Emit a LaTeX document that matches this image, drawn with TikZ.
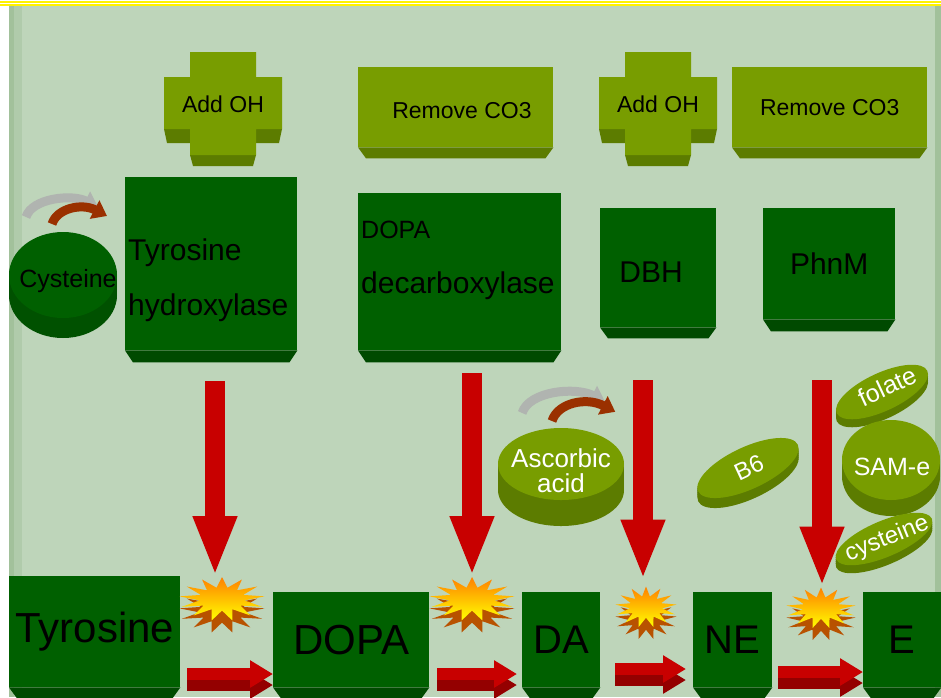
\documentclass[tikz,border=0pt]{standalone}
\usepackage{fontspec}
\setmainfont{Liberation Sans}
\usetikzlibrary{shapes.geometric, arrows.meta}

\definecolor{pagegreen}{HTML}{BED5BA}
\definecolor{edgegreen}{HTML}{A2C19B}
\definecolor{boxgreen}{HTML}{006000}
\definecolor{boxshade}{HTML}{004A00}
\definecolor{olive}{HTML}{789D00}
\definecolor{oliveshade}{HTML}{5C7C00}
\definecolor{arrowred}{HTML}{C80000}
\definecolor{arrowshade}{HTML}{940000}
\definecolor{swirlbrown}{HTML}{9A3000}
\definecolor{swirlgray}{HTML}{B0B4B0}
\definecolor{boomshade}{HTML}{B85200}
\definecolor{boomtop}{HTML}{FF8000}

\tikzstyle{enzyme} = [rectangle, fill=boxgreen, inner sep=0pt, anchor=north west]
\tikzstyle{action} = [rectangle, fill=olive, inner sep=0pt, anchor=north west]
\tikzstyle{chem} = [rectangle, fill=boxgreen, inner sep=0pt, anchor=north west, font=\fontsize{40}{48}\selectfont]
\tikzstyle{boom} = [star, star points=13, star point ratio=1.9, inner sep=0pt]
\tikzstyle{downarrow} = [arrowred, line width=20pt, -{Triangle[length=60pt, width=40pt]}]
\tikzstyle{sidearrow} = [line width=12pt, -{Triangle[length=23pt, width=26pt]}]
\tikzstyle{swirl} = [line width=9pt, -{Triangle[length=14pt, width=20pt]}]
\tikzstyle{big} = [inner sep=0pt, font=\fontsize{30}{55}\selectfont]
\tikzstyle{small} = [inner sep=0pt, font=\fontsize{23}{27}\selectfont]
\tikzstyle{pilltext} = [inner sep=0pt, text=white, font=\fontsize{25}{25}\selectfont]

% darker foot under a box
\newcommand\boxfoot[3][12]{\fill[#3] (#2.south west) -- (#2.south east) -- ([xshift=-8pt,yshift=-#1pt]#2.south east) -- ([xshift=8pt,yshift=-#1pt]#2.south west) -- cycle;}

% olive cross with its text
\newcommand\plusbox[3]{%
\begin{scope}[shift={#2}]
\fill[oliveshade] (-59,26) -- (-33,26) -- (-33,40) -- (-56,40) -- cycle;
\fill[oliveshade] (59,26) -- (33,26) -- (33,40) -- (56,40) -- cycle;
\fill[oliveshade] (-33,52) -- (33,52) -- (30,63) -- (-30,63) -- cycle;
\fill[olive] (-33,-51) -- (33,-51) -- (33,-26) -- (59,-26) -- (59,26) -- (33,26) -- (33,52) -- (-33,52) -- (-33,26) -- (-59,26) -- (-59,-26) -- (-33,-26) -- cycle;
\node (#1) [small] at (0,1) {#3};
\end{scope}}

% curved grey and brown arrows
\newcommand\swirlpair[2]{%
\begin{scope}[shift={#1}, scale=#2]
\draw[swirl, swirlgray] (-26,-7) .. controls (-20,-26) and (20,-30) .. (46,-17);
\draw[swirl, swirlbrown] (0,0) .. controls (5,-16) and (30,-21) .. (55,-8);
\end{scope}}

\begin{document}
\begin{tikzpicture}[x=1pt, y=-1pt]
\useasboundingbox (0,0) rectangle (941,697);

%%% page %%%%%%%%%%%%%%%%%%%%%%%
\fill[white] (0,0) rectangle (941,697);
\fill[pagegreen] (9,6) rectangle (941,697);
\fill[edgegreen] (9,6) rectangle (14,697);
\fill[edgegreen!50!pagegreen] (14,6) rectangle (22,697);
\fill[edgegreen] (935,6) rectangle (941,697);
\fill[yellow] (0,1) rectangle (941,6);
\fill[white] (0,3.2) rectangle (941,3.9);

%%% actions %%%%%%%%%%%%%%%%%%%%%%%
\plusbox{addoh1}{(223,103)}{Add OH}
\plusbox{addoh2}{(658,103)}{Add OH}
\node (rmco1) [action, minimum width=195pt, minimum height=80pt] at (358,67) {};
\boxfoot[11]{rmco1}{oliveshade}
\node (rmco1text) [small] at (462,111) {Remove CO3};
\node (rmco2) [action, minimum width=195pt, minimum height=80pt, small] at (732,67) {Remove CO3};
\boxfoot[11]{rmco2}{oliveshade}

%%% enzymes %%%%%%%%%%%%%%%%%%%%%%%
\node (th) [enzyme, minimum width=172pt, minimum height=173pt] at (125,177) {};
\boxfoot{th}{boxshade}
\node (thtext) [big, anchor=base west, align=left] at (128,315) {Tyrosine\\hydroxylase};
\node (ddc) [enzyme, minimum width=203pt, minimum height=157pt] at (358,193) {};
\boxfoot{ddc}{boxshade}
\node (ddctext) [big, anchor=base west, align=left] at (361,293) {{\fontsize{25}{55}\selectfont DOPA}\\decarboxylase};
\node (dbh) [enzyme, minimum width=116pt, minimum height=119pt] at (600,208) {};
\boxfoot[11]{dbh}{boxshade}
\node (dbhtext) [big] at (651,272) {DBH};
\node (pnmt) [enzyme, minimum width=132pt, minimum height=111pt, big] at (763,208) {PhnM};
\boxfoot{pnmt}{boxshade}

%%% cofactors %%%%%%%%%%%%%%%%%%%%%%%
\foreach \d in {20,18,...,2} \fill[boxshade!70!boxgreen] (63,275+\d) ellipse (54 and 43);
\fill[boxgreen] (63,275) ellipse (54 and 43);
\node (cys) [inner sep=0pt, font=\fontsize{25}{30}\selectfont] at (68,281) {Cysteine};
\swirlpair{(52,224)}{1}

\foreach \d in {26,24,...,2} \fill[oliveshade] (561,464+\d) ellipse (63 and 36);
\fill[olive] (561,464) ellipse (63 and 36);
\node (asc) [pilltext, align=center, font=\fontsize{26}{25}\selectfont] at (561,471) {Ascorbic\\acid};
\swirlpair{(552,421)}{1.15}

\foreach \d in {10,8,...,2} \fill[oliveshade, rotate around={25:(748,468+\d)}] (748,468+\d) ellipse (55 and 21);
\fill[olive, rotate around={25:(748,468)}] (748,468) ellipse (55 and 21);
\node (b6) [pilltext, rotate=25, font=\fontsize{24}{24}\selectfont] at (749,468) {B6};

\foreach \d in {8,6,...,2} \fill[oliveshade, rotate around={25:(882,392+\d)}] (882,392+\d) ellipse (50 and 19);
\fill[olive, rotate around={25:(882,392)}] (882,392) ellipse (50 and 19);
\node (fol) [pilltext, rotate=25] at (887,386) {folate};

\foreach \d in {16,14,...,2} \fill[oliveshade] (891,460+\d) ellipse (49 and 40);
\fill[olive] (891,460) ellipse (49 and 40);
\node (same) [pilltext] at (892,467) {SAM-e};

\foreach \d in {8,6,...,2} \fill[oliveshade, rotate around={23:(884,539+\d)}] (884,539+\d) ellipse (52 and 18);
\fill[olive, rotate around={23:(884,539)}] (884,539) ellipse (52 and 18);
\node (cys2) [pilltext, rotate=22, font=\fontsize{24}{24}\selectfont] at (887,539) {cysteine};

%%% substrates %%%%%%%%%%%%%%%%%%%%%%%
\node (tyr) [chem, minimum width=171pt, minimum height=111pt, font=\fontsize{42}{48}\selectfont] at (9,576) {Tyrosine};
\node (dopa) [chem, minimum width=156pt, minimum height=95pt, font=\fontsize{42}{48}\selectfont] at (273,592) {DOPA};
\node (da) [chem, minimum width=78pt, minimum height=95pt] at (522,592) {DA};
\node (ne) [chem, minimum width=79pt, minimum height=95pt] at (693,592) {NE};
\node (epi) [chem, minimum width=78pt, minimum height=95pt] at (863,592) {E};
\foreach \n in {tyr,dopa,da,ne,epi} {\boxfoot[11]{\n}{boxshade}}

%%% reactions %%%%%%%%%%%%%%%%%%%%%%%
\node (boom1side) [boom, minimum size=44pt, xscale=1.95, fill=boomshade] at (222,611) {};
\node (boom1) [boom, minimum size=44pt, xscale=1.95, top color=boomtop, bottom color=yellow] at (222,599) {};
\node (boom2side) [boom, minimum size=44pt, xscale=1.95, fill=boomshade] at (472,611) {};
\node (boom2) [boom, minimum size=44pt, xscale=1.95, top color=boomtop, bottom color=yellow] at (472,599) {};
\node (boom3side) [boom, minimum size=41pt, xscale=1.5, fill=boomshade] at (646,619) {};
\node (boom3) [boom, minimum size=41pt, xscale=1.5, top color=boomtop, bottom color=yellow] at (646,607) {};
\node (boom4side) [boom, minimum size=41pt, xscale=1.7, fill=boomshade] at (821,620) {};
\node (boom4) [boom, minimum size=41pt, xscale=1.7, top color=boomtop, bottom color=yellow] at (821,608) {};

%%% drawing %%%%%%%%%%%%%%%%%%%%%%%
\coordinate (d1) at (215,381);
\coordinate (d2) at (472,373);
\coordinate (d3) at (643,380);
\coordinate (d4) at (822,380);
\draw [downarrow] (d1) -- (d1 |- boom1.north);
\draw [downarrow] (d2) -- (d2 |- boom2.north);
\draw [downarrow, shorten >=6pt] (d3) -- (d3 |- boom3.north);
\draw [downarrow] (d4) -- (d4 |- boom4.north);

\coordinate (r1) at (187,674);
\coordinate (r2) at (437,674);
\coordinate (r3) at (615,669);
\coordinate (r4) at (778,672);
\draw [sidearrow, arrowshade] ([yshift=-11pt]r1) -- ([yshift=-11pt]r1 -| dopa.west);
\draw [sidearrow, arrowred] (r1) -- (r1 -| dopa.west);
\draw [sidearrow, arrowshade, shorten >=5pt] ([yshift=-11pt]r2) -- ([yshift=-11pt]r2 -| da.west);
\draw [sidearrow, arrowred, shorten >=5pt] (r2) -- (r2 -| da.west);
\draw [sidearrow, arrowshade, shorten >=7pt] ([yshift=-11pt]r3) -- ([yshift=-11pt]r3 -| ne.west);
\draw [sidearrow, arrowred, shorten >=7pt] (r3) -- (r3 -| ne.west);
\draw [sidearrow, arrowshade] ([yshift=-11pt]r4) -- ([yshift=-11pt]r4 -| epi.west);
\draw [sidearrow, arrowred] (r4) -- (r4 -| epi.west);
\end{tikzpicture}
\end{document}
